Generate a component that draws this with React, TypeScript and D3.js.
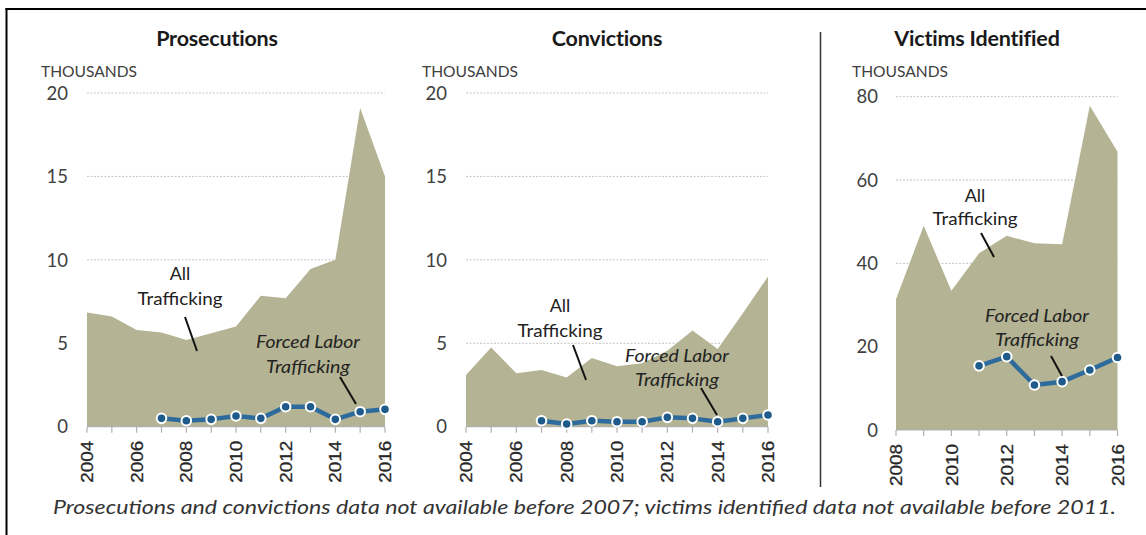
import React from "react";
import * as d3 from "d3";

// ---------- DATA ----------
const prosYears = [2004, 2005, 2006, 2007, 2008, 2009, 2010, 2011, 2012, 2013, 2014, 2015, 2016];
const prosAll = [6.85, 6.6, 5.8, 5.65, 5.2, 5.6, 6.0, 7.85, 7.7, 9.45, 10.0, 19.1, 15.0];
const flYears = [2007, 2008, 2009, 2010, 2011, 2012, 2013, 2014, 2015, 2016];
const prosForced = [0.5, 0.36, 0.44, 0.64, 0.5, 1.2, 1.2, 0.44, 0.9, 1.04];

const convYears = [2004, 2005, 2006, 2007, 2008, 2009, 2010, 2011, 2012, 2013, 2014, 2015, 2016];
const convAll = [3.1, 4.74, 3.2, 3.4, 2.95, 4.12, 3.62, 3.8, 4.55, 5.76, 4.65, 6.8, 9.0];
const convForced = [0.36, 0.16, 0.36, 0.3, 0.3, 0.56, 0.5, 0.3, 0.5, 0.7];

const vicYears = [2008, 2009, 2010, 2011, 2012, 2013, 2014, 2015, 2016];
const vicAll = [31.4, 49, 33.4, 42.4, 46.6, 44.8, 44.6, 77.8, 66.8];
const vicFLYears = [2011, 2012, 2013, 2014, 2015, 2016];
const vicForced = [15.4, 17.6, 10.8, 11.6, 14.4, 17.4];

const prosTicks = [0, 5, 10, 15, 20];
const convTicks = [0, 5, 10, 15, 20];
const vicTicks = [0, 20, 40, 60, 80];
const prosYearLabels = [2004, 2006, 2008, 2010, 2012, 2014, 2016];
const convYearLabels = [2004, 2006, 2008, 2010, 2012, 2014, 2016];
const vicYearLabels = [2008, 2010, 2012, 2014, 2016];

const titles = ["Prosecutions", "Convictions", "Victims Identified"];
const unitLabel = "THOUSANDS";
const allLabel = ["All", "Trafficking"];
const flLabel = ["Forced Labor", "Trafficking"];
const footnote =
  "Prosecutions and convictions data not available before 2007; victims identified data not available before 2011.";

// ---------- LAYOUT ----------
const AREA = "#b4b393";
const LINE = "#2c6b9b";
const DOT = "#1f5b8a";
const TXT = "#404040";
const FONT = "Lato, 'Open Sans', sans-serif";

const panels = [
  {
    title: titles[0], titleX: 217, unitX: 41,
    years: prosYears, all: prosAll, flYears, fl: prosForced, ticks: prosTicks, yLabels: prosYearLabels,
    x0: 87, x1: 385, y0: 426.7, y1: 93, max: 20, tickLabelX: 68,
    allPos: { x: 180, y1: 280, y2: 305, l: [185, 317, 197, 351] },
    flPos: { x: 308, y1: 348, y2: 373, l: [340, 377, 356, 404] },
  },
  {
    title: titles[1], titleX: 607, unitX: 422,
    years: convYears, all: convAll, flYears, fl: convForced, ticks: convTicks, yLabels: convYearLabels,
    x0: 466, x1: 768, y0: 426.7, y1: 93, max: 20, tickLabelX: 447,
    allPos: { x: 560, y1: 312, y2: 337, l: [573, 345, 586, 380] },
    flPos: { x: 677, y1: 362, y2: 386, l: [701, 388, 717, 415] },
  },
  {
    title: titles[2], titleX: 977, unitX: 852,
    years: vicYears, all: vicAll, flYears: vicFLYears, fl: vicForced, ticks: vicTicks, yLabels: vicYearLabels,
    x0: 896, x1: 1117.5, y0: 430, y1: 96.7, max: 80, tickLabelX: 878,
    allPos: { x: 975, y1: 202, y2: 225, l: [981, 233, 994, 257] },
    flPos: { x: 1037, y1: 322, y2: 346, l: [1051, 356, 1062, 376] },
  },
];

function Panel({ p }: { p: any }) {
  const x = d3.scaleLinear().domain([p.years[0], p.years[p.years.length - 1]]).range([p.x0, p.x1]);
  const y = d3.scaleLinear().domain([0, p.max]).range([p.y0, p.y1]);
  const area = d3
    .area<number>()
    .x((_, i) => x(p.years[i]))
    .y0(y(0))
    .y1((d) => y(d));
  const line = d3
    .line<number>()
    .x((_, i) => x(p.flYears[i]))
    .y((d) => y(d));
  return (
    <g>
      <text x={p.titleX} y={46} textAnchor="middle" fontFamily={FONT} fontWeight="bold" fontSize={21.5} fill="#1a1a1a" letterSpacing={-0.2}>
        {p.title}
      </text>
      <text x={p.unitX} y={77} fontFamily={FONT} fontSize={14.5} fill={TXT} textLength={96} lengthAdjust="spacingAndGlyphs">
        {unitLabel}
      </text>
      {p.ticks.map((t: number) => (
        <g key={t}>
          {t > 0 && (
            <line x1={p.x0} x2={p.x1} y1={y(t)} y2={y(t)} stroke="#c4c4c4" strokeWidth={1} strokeDasharray="2,1.5" />
          )}
          <text x={p.tickLabelX} y={y(t)} dy="0.36em" textAnchor="end" fontFamily={FONT} fontSize={18.5} fill={TXT}>
            {t}
          </text>
        </g>
      ))}
      <path d={area(p.all) || ""} fill={AREA} />
      <line x1={p.x0} x2={p.x1} y1={y(0)} y2={y(0)} stroke="#b0b0b0" strokeWidth={1.2} />
      {p.years.map((yr: number) => (
        <line key={yr} x1={x(yr)} x2={x(yr)} y1={y(0)} y2={y(0) + 6} stroke="#b0b0b0" strokeWidth={1.2} />
      ))}
      {p.yLabels.map((yr: number) => (
        <text
          key={yr}
          transform={`translate(${x(yr)},${y(0) + 14}) rotate(-90)`}
          dy="0.36em"
          textAnchor="end"
          fontFamily="'Liberation Sans', Arial, sans-serif"
          fontSize={17}
          fill="#262626"
          stroke="#262626"
          strokeWidth={0.3}
          textLength={42}
          lengthAdjust="spacingAndGlyphs"
        >
          {yr}
        </text>
      ))}
      <path d={line(p.fl) || ""} fill="none" stroke={LINE} strokeWidth={4.5} strokeLinejoin="round" />
      {p.fl.map((v: number, i: number) => (
        <circle key={i} cx={x(p.flYears[i])} cy={y(v)} r={4.8} fill={DOT} stroke="#ffffff" strokeWidth={2} />
      ))}
      <text x={p.allPos.x} y={p.allPos.y1} textAnchor="middle" fontFamily={FONT} fontSize={18} fill="#222">
        {allLabel[0]}
      </text>
      <text x={p.allPos.x} y={p.allPos.y2} textAnchor="middle" fontFamily={FONT} fontSize={18} fill="#222" textLength={85} lengthAdjust="spacingAndGlyphs">
        {allLabel[1]}
      </text>
      <line x1={p.allPos.l[0]} y1={p.allPos.l[1]} x2={p.allPos.l[2]} y2={p.allPos.l[3]} stroke="#111" strokeWidth={2} />
      <text x={p.flPos.x} y={p.flPos.y1} textAnchor="middle" fontFamily={FONT} fontStyle="italic" fontSize={18} fill="#222" textLength={104} lengthAdjust="spacingAndGlyphs">
        {flLabel[0]}
      </text>
      <text x={p.flPos.x} y={p.flPos.y2} textAnchor="middle" fontFamily={FONT} fontStyle="italic" fontSize={18} fill="#222" textLength={84} lengthAdjust="spacingAndGlyphs">
        {flLabel[1]}
      </text>
      <line x1={p.flPos.l[0]} y1={p.flPos.l[1]} x2={p.flPos.l[2]} y2={p.flPos.l[3]} stroke="#111" strokeWidth={2} />
    </g>
  );
}

export default function App() {
  return (
    <svg width={1146} height={535} style={{ position: "absolute", left: 0, top: 0, background: "#fff" }}>
      <rect x={0} y={0} width={1146} height={535} fill="#fff" />
      <line x1={5.5} x2={1146} y1={9} y2={9} stroke="#000" strokeWidth={2.2} />
      <line x1={6.5} x2={6.5} y1={8} y2={535} stroke="#000" strokeWidth={2} />
      <line x1={820.5} x2={820.5} y1={32} y2={487} stroke="#333" strokeWidth={1.5} />
      {panels.map((p, i) => (
        <Panel key={i} p={p} />
      ))}
      <text
        x={53}
        y={514}
        fontFamily={FONT}
        fontStyle="italic"
        fontSize={18.5}
        fill="#333"
        textLength={1063}
        lengthAdjust="spacingAndGlyphs"
      >
        {footnote}
      </text>
    </svg>
  );
}
